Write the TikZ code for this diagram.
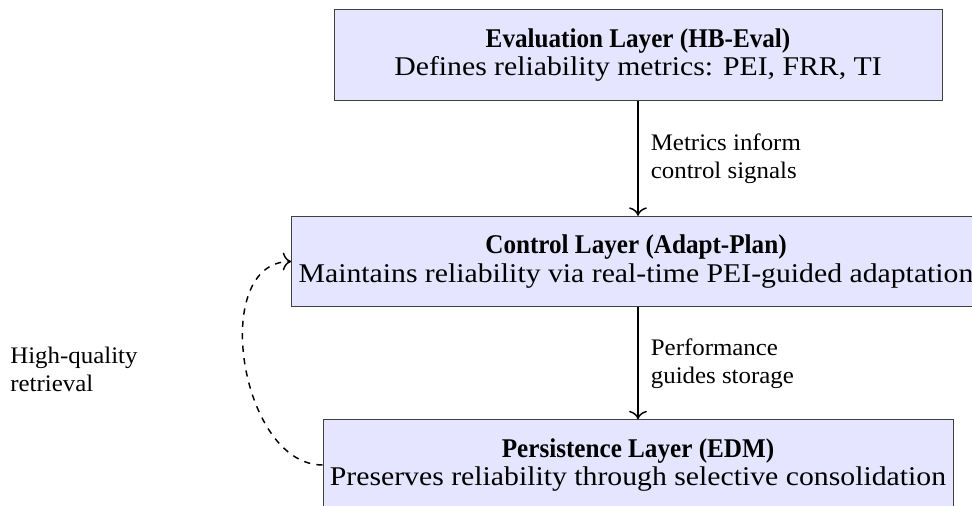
\documentclass[tikz,border=0pt]{standalone}
\usepackage{fontspec}
\usetikzlibrary{arrows.meta}
\setmainfont{Liberation Serif}[FakeStretch=1.05]
\newfontfamily\boxreg{Liberation Serif}[FakeStretch=1.1]
\newfontfamily\boxbold{Liberation Serif}[FakeStretch=0.93]
\newcommand{\layertitle}[1]{{\boxbold\bfseries #1}}
\begin{document}
\begin{tikzpicture}[x=0.4808pt,y=-0.4808pt,
  layerbox/.style={draw=black!75, fill=blue!10, align=center, minimum width=292.3pt, minimum height=43.5pt, inner sep=3.33pt, font=\boxreg\fontsize{13}{13.5}\selectfont},
  flow/.style={-{To[scale=1.3]}, line width=0.7pt},
  feedback/.style={-{To[scale=1.3]}, dashed, line width=0.7pt},
  flowlabel/.style={right, align=left, xshift=2.5pt, font=\fontsize{11.4}{13.5}\selectfont},
  sidelabel/.style={align=left, font=\fontsize{11.4}{13.5}\selectfont}]
\useasboundingbox (0,0) rectangle (972,506);
\node[layerbox] (eval) at (638,55) {\layertitle{Evaluation Layer (HB-Eval)}\\Defines reliability metrics: PEI, FRR, TI};
\node[layerbox] (ctrl) at (636,261.5) {\layertitle{Control Layer (Adapt-Plan)}\\Maintains reliability via real-time PEI-guided adaptation};
\node[layerbox] (pers) at (638,465) {\layertitle{Persistence Layer (EDM)}\\Preserves reliability through selective consolidation};
\draw[flow] (eval.south) -- node[flowlabel] (l1) {Metrics inform\\control signals} (eval.south |- ctrl.north);
\draw[flow] (eval.south |- ctrl.south) -- node[flowlabel] (l2) {Performance\\guides storage} (pers.north);
\draw[feedback] (pers.west) to[out=180,in=180,looseness=1.03] (ctrl.west);
\node[sidelabel, anchor=west] (hq) at (3,369) {High-quality\\retrieval};
\end{tikzpicture}
\end{document}
